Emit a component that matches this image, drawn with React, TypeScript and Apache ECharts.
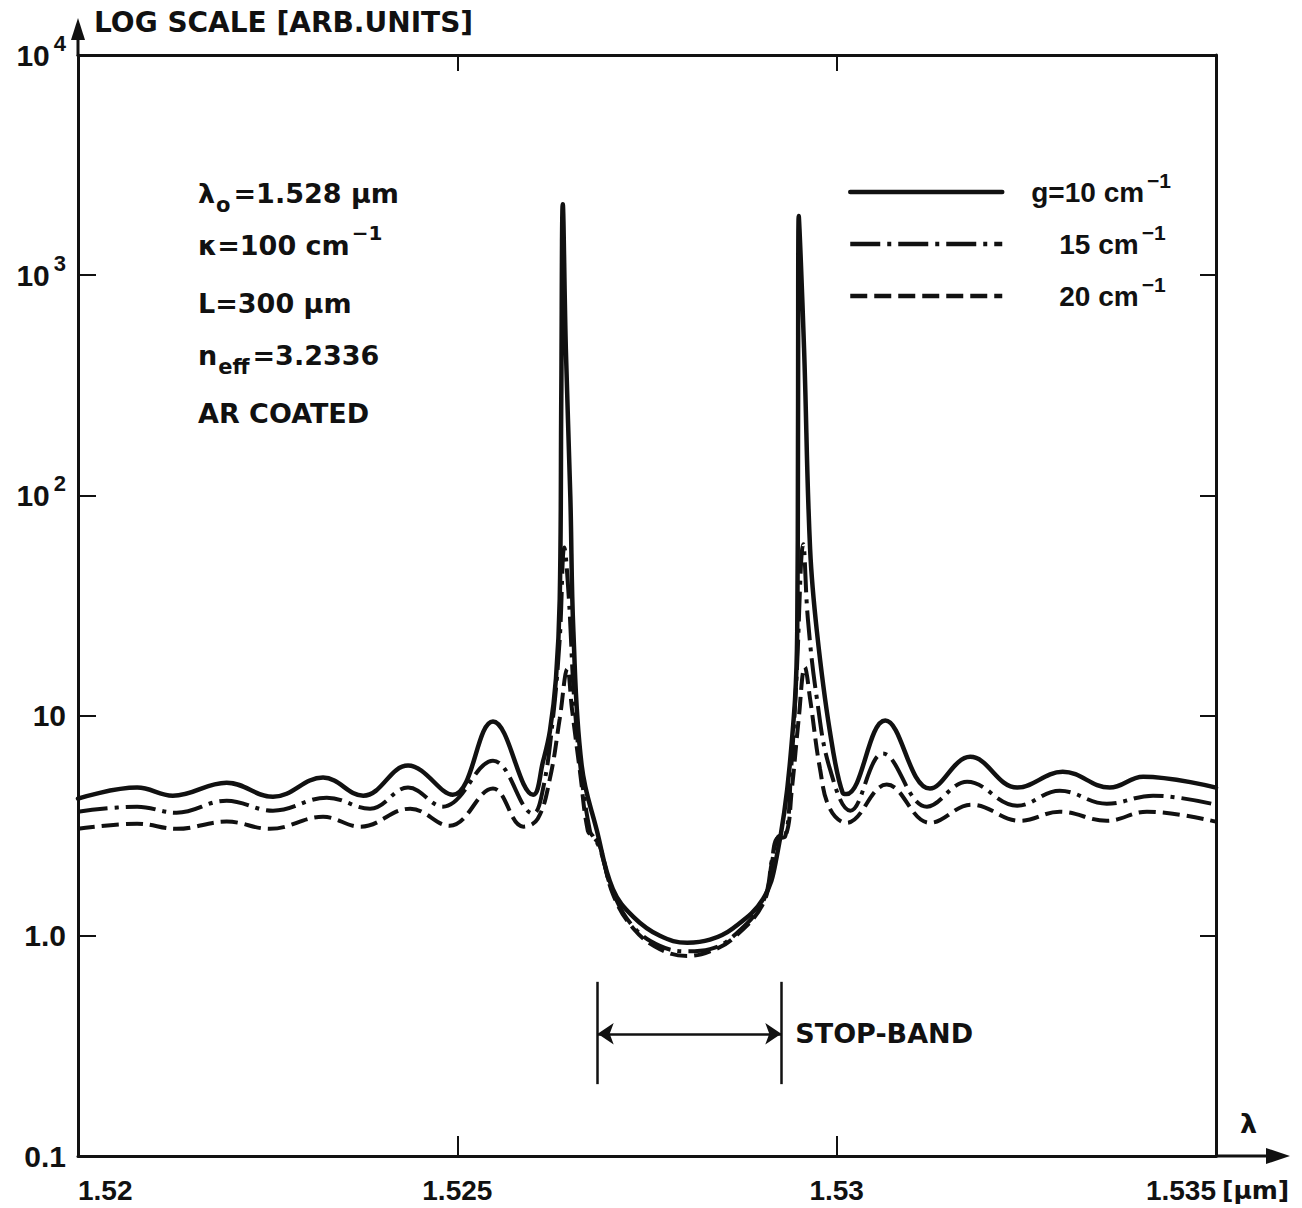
import React, { useEffect, useRef } from "react";
import * as echarts from "echarts";

const FONT = '"Liberation Sans", Arial, Helvetica, sans-serif';
const WIDE = '"DejaVu Sans", Verdana, sans-serif';
const INK = "#111111";

// wavelength [µm], intensity [arb. units]
const G10: number[][] = [
  [1.52, 4.2], [1.52078, 4.71], [1.52125, 4.33], [1.52196, 4.96], [1.52257, 4.28],
  [1.52323, 5.23], [1.52376, 4.33], [1.52435, 5.93], [1.52494, 4.37], [1.52547, 9.4],
  [1.526, 4.37], [1.52613, 6.2], [1.52622, 8.5], [1.5263, 14.7], [1.52635, 34],
  [1.52637, 275], [1.52639, 2100], [1.52643, 466], [1.52649, 97], [1.52653, 24],
  [1.52664, 5.9], [1.52684, 3.0], [1.52705, 1.63], [1.52732, 1.22], [1.52767, 1.0],
  [1.52803, 0.93], [1.52833, 0.96], [1.52863, 1.08], [1.52903, 1.47], [1.52921, 2.29],
  [1.52938, 5.9], [1.52948, 24], [1.52949, 164], [1.5295, 1855], [1.52957, 466],
  [1.52965, 57], [1.52974, 24], [1.52991, 8.5], [1.53008, 4.45], [1.53013, 4.4],
  [1.53064, 9.5], [1.53123, 4.66], [1.53176, 6.5], [1.53238, 4.71], [1.53298, 5.56],
  [1.5336, 4.71], [1.53404, 5.28], [1.535, 4.71],
];

const G15: number[][] = [
  [1.52, 3.66], [1.52078, 3.86], [1.5213, 3.62], [1.52196, 4.11], [1.52257, 3.7],
  [1.52328, 4.24], [1.52385, 3.78], [1.52435, 4.71], [1.52481, 3.86], [1.52547, 6.24],
  [1.526, 3.59], [1.52613, 4.66], [1.52626, 9.7], [1.52635, 22.4], [1.52641, 58],
  [1.52647, 34], [1.52654, 11.9], [1.52664, 5.17], [1.52675, 2.97], [1.52679, 2.82],
  [1.52688, 2.48], [1.52705, 1.58], [1.52732, 1.1], [1.52767, 0.9], [1.52803, 0.85],
  [1.52833, 0.87], [1.52863, 0.99], [1.52903, 1.43], [1.52915, 2.24], [1.52921, 2.76],
  [1.52932, 2.82], [1.5294, 5.74], [1.52947, 14.7], [1.52956, 60], [1.52962, 27.6],
  [1.52974, 11.9], [1.52991, 5.74], [1.53018, 3.7], [1.53061, 6.72], [1.53119, 3.86],
  [1.53172, 5.01], [1.53238, 3.9], [1.53294, 4.56], [1.53356, 3.98], [1.53417, 4.33],
  [1.535, 3.94],
];

const G20: number[][] = [
  [1.52, 3.06], [1.52078, 3.23], [1.5213, 3.06], [1.52196, 3.3], [1.52253, 3.06],
  [1.52323, 3.47], [1.52372, 3.13], [1.52438, 3.78], [1.5249, 3.16], [1.52547, 4.66],
  [1.52587, 3.13], [1.52606, 3.4], [1.52622, 5.17], [1.52635, 9.7], [1.52645, 16.3],
  [1.52651, 10.8], [1.52662, 5.45], [1.52672, 3.0], [1.52679, 2.82], [1.52688, 2.54],
  [1.52705, 1.55], [1.52732, 1.08], [1.52767, 0.87], [1.52803, 0.81], [1.52833, 0.85],
  [1.52863, 0.97], [1.52903, 1.4], [1.52915, 2.19], [1.52923, 2.82], [1.52933, 2.88],
  [1.52941, 4.66], [1.5295, 9.7], [1.52958, 16.6], [1.52965, 11.9], [1.52978, 5.74],
  [1.52991, 3.78], [1.53013, 3.26], [1.53066, 4.86], [1.53123, 3.26], [1.53178, 3.94],
  [1.53242, 3.33], [1.53294, 3.66], [1.53356, 3.33], [1.53409, 3.66], [1.535, 3.3],
];

const X_MIN = 1.52;
const X_MAX = 1.535;
const X_STEP = 0.005;
const Y_MIN = 0.1;
const Y_MAX = 10000;

const SERIES_NAMES = ["g10", "g15", "g20"];
const LEGEND_TEXT = ["g=10 cm", "15 cm", "20 cm"];

const STOP_BAND_EDGES = [1.52685, 1.52927];
const STOP_BAND_BAR = [0.618, 0.212];
const STOP_BAND_ARROW = 0.359;

const ANNOTATIONS = [
  "{l|λ}{sub|o}{t|=1.528 µm}",
  "{t|κ=100 cm}{sup|−1}",
  "{t|L=300 µm}",
  "{t|n}{sub|eff}{t|=3.2336}",
  "{t|AR COATED}",
];
const ANNOTATION_Y = [193, 245, 303, 355, 413];

const richBase = {
  t: { fontFamily: WIDE, fontWeight: "bold", fontSize: 27, color: INK, lineHeight: 44 },
  l: { fontFamily: WIDE, fontWeight: "bold", fontSize: 27, color: INK, lineHeight: 44 },
  sup: { fontFamily: WIDE, fontWeight: "bold", fontSize: 20, color: INK, verticalAlign: "top", padding: [0, 0, 0, 2] },
  sub: { fontFamily: WIDE, fontWeight: "bold", fontSize: 21, color: INK, verticalAlign: "bottom", padding: [0, 3, 0, 1] },
};

export default function App() {
  const ref = useRef<HTMLDivElement>(null);

  useEffect(() => {
    document.body.style.margin = "0";
    const chart = echarts.init(ref.current!, undefined, { renderer: "svg" });

    const axisLabelRich = {
      n: { fontFamily: FONT, fontWeight: "bold", fontSize: 30, color: INK, lineHeight: 46 },
      s: { fontFamily: FONT, fontWeight: "bold", fontSize: 22, color: INK, verticalAlign: "top", padding: [0, 0, 0, 4] },
    };

    const lineCommon = {
      type: "line",
      showSymbol: false,
      symbol: "none",
      smooth: 0.4,
      color: INK,
      xAxisIndex: 0,
      yAxisIndex: 0,
    };

    const annotationGraphics = ANNOTATIONS.map((txt, i) => ({
      type: "text",
      x: 198,
      y: ANNOTATION_Y[i],
      style: {
        text: txt,
        rich: richBase,
        fill: INK,
        align: "left",
        verticalAlign: "middle",
      },
    }));

    const stopLabel = {
      show: true,
      position: "end",
      distance: 14,
      formatter: "STOP-BAND",
      fontFamily: WIDE,
      fontWeight: "bold",
      fontSize: 27,
      color: INK,
    };

    const option: any = {
      animation: false,
      backgroundColor: "#ffffff",
      grid: { left: 78, right: 86, top: 55, bottom: 52, containLabel: false },
      xAxis: [
        {
          type: "value",
          min: X_MIN,
          max: X_MAX,
          interval: X_STEP,
          position: "bottom",
          axisLine: { show: true, lineStyle: { color: INK, width: 3 } },
          axisTick: { show: true, inside: true, length: 20, lineStyle: { color: INK, width: 2 } },
          splitLine: { show: false },
          axisLabel: {
            margin: 20,
            alignMinLabel: "left",
            alignMaxLabel: "right",
            fontFamily: FONT,
            fontWeight: "bold",
            fontSize: 28,
            color: INK,
            formatter: (v: number) => String(Number(v.toFixed(3))),
          },
        },
        {
          type: "value",
          min: X_MIN,
          max: X_MAX,
          interval: X_STEP,
          position: "top",
          axisLine: { show: true, lineStyle: { color: INK, width: 3 } },
          axisTick: { show: true, inside: true, length: 16, lineStyle: { color: INK, width: 2 } },
          splitLine: { show: false },
          axisLabel: { show: false },
        },
      ],
      yAxis: [
        {
          type: "log",
          logBase: 10,
          min: Y_MIN,
          max: Y_MAX,
          position: "left",
          axisLine: { show: true, lineStyle: { color: INK, width: 3 } },
          axisTick: { show: true, inside: true, length: 18, lineStyle: { color: INK, width: 2 } },
          minorTick: { show: false },
          splitLine: { show: false },
          axisLabel: {
            margin: 12,
            rich: axisLabelRich,
            formatter: (v: number) => {
              const e = Math.round(Math.log10(v));
              if (e >= 2) return `{n|10}{s|${e}}`;
              if (e === 1) return "{n|10}";
              if (e === 0) return "{n|1.0}";
              return "{n|0.1}";
            },
          },
        },
        {
          type: "log",
          logBase: 10,
          min: Y_MIN,
          max: Y_MAX,
          position: "right",
          axisLine: { show: true, lineStyle: { color: INK, width: 3 } },
          axisTick: { show: true, inside: true, length: 16, lineStyle: { color: INK, width: 2 } },
          splitLine: { show: false },
          axisLabel: { show: false },
        },
      ],
      legend: {
        data: SERIES_NAMES,
        orient: "vertical",
        left: 848,
        top: 170,
        padding: 0,
        itemWidth: 152,
        itemHeight: 40,
        itemGap: 14,
        selectedMode: false,
        itemStyle: { opacity: 0, borderWidth: 0 },
        lineStyle: { width: 4.5 },
        textStyle: {
          fontFamily: FONT,
          fontWeight: "bold",
          fontSize: 28,
          color: INK,
          rich: {
            gap: { width: 24 },
            gap2: { width: 52 },
            t: { fontFamily: FONT, fontWeight: "bold", fontSize: 28, color: INK, lineHeight: 44 },
            s: { fontFamily: FONT, fontWeight: "bold", fontSize: 21, color: INK, verticalAlign: "top", padding: [0, 0, 0, 3] },
          },
        },
        formatter: (name: string) => {
          const i = SERIES_NAMES.indexOf(name);
          const pad = i === 0 ? "{gap|}" : "{gap2|}";
          return `${pad}{t|${LEGEND_TEXT[i]}}{s|−1}`;
        },
      },
      series: [
        {
          ...lineCommon,
          name: "g20",
          data: G20,
          z: 3,
          lineStyle: { color: INK, width: 4, type: [17, 7], cap: "butt" },
        },
        {
          ...lineCommon,
          name: "g15",
          data: G15,
          z: 4,
          lineStyle: { color: INK, width: 4, type: [30, 7, 4, 7], cap: "butt" },
        },
        {
          ...lineCommon,
          name: "g10",
          data: G10,
          z: 5,
          lineStyle: { color: INK, width: 4.5, type: "solid", cap: "round", join: "round" },
          markLine: {
            silent: true,
            symbol: ["none", "none"],
            symbolSize: 16,
            lineStyle: { color: INK, width: 2.5, type: "solid" },
            label: { show: false },
            data: [
              [
                { coord: [STOP_BAND_EDGES[0], STOP_BAND_BAR[0]] },
                { coord: [STOP_BAND_EDGES[0], STOP_BAND_BAR[1]] },
              ],
              [
                { coord: [STOP_BAND_EDGES[1], STOP_BAND_BAR[0]] },
                { coord: [STOP_BAND_EDGES[1], STOP_BAND_BAR[1]] },
              ],
              [
                { coord: [STOP_BAND_EDGES[0], STOP_BAND_ARROW], symbol: "arrow", label: stopLabel },
                { coord: [STOP_BAND_EDGES[1], STOP_BAND_ARROW], symbol: "arrow", label: stopLabel },
              ],
            ],
          },
        },
      ],
      graphic: [
        {
          type: "text",
          x: 94,
          y: 22,
          style: {
            text: "LOG SCALE [ARB.UNITS]",
            font: `bold 28px ${WIDE}`,
            fill: INK,
            align: "left",
            verticalAlign: "middle",
          },
        },
        { type: "line", shape: { x1: 78, y1: 56, x2: 78, y2: 34 }, style: { stroke: INK, lineWidth: 3 } },
        { type: "polygon", shape: { points: [[78, 18], [71, 40], [85, 40]] }, style: { fill: INK } },
        { type: "line", shape: { x1: 1215, y1: 1156, x2: 1272, y2: 1156 }, style: { stroke: INK, lineWidth: 3 } },
        { type: "polygon", shape: { points: [[1290, 1156], [1266, 1148], [1266, 1164]] }, style: { fill: INK } },
        {
          type: "text",
          x: 1240,
          y: 1123,
          style: { text: "λ", font: `bold 27px ${WIDE}`, fill: INK, align: "left", verticalAlign: "middle" },
        },
        {
          type: "text",
          x: 1222,
          y: 1190,
          style: { text: "[µm]", font: `bold 25px ${WIDE}`, fill: INK, align: "left", verticalAlign: "middle" },
        },
        ...annotationGraphics,
      ],
    };

    chart.setOption(option);
    return () => chart.dispose();
  }, []);

  return <div ref={ref} style={{ width: 1302, height: 1208 }} />;
}
